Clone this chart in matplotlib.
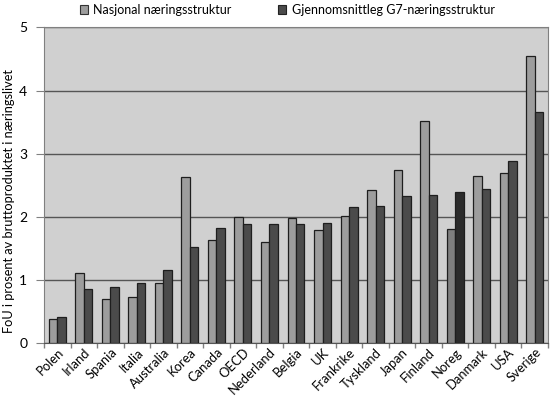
import matplotlib
matplotlib.use("Agg")
import matplotlib.pyplot as plt
import numpy as np
from matplotlib.patches import Patch

countries = ["Polen", "Irland", "Spania", "Italia", "Australia", "Korea", "Canada",
             "OECD", "Nederland", "Belgia", "UK", "Frankrike", "Tyskland", "Japan",
             "Finland", "Noreg", "Danmark", "USA", "Sverige"]
nasjonal = [0.38, 1.11, 0.70, 0.73, 0.96, 2.63, 1.64, 2.00, 1.61, 1.98, 1.79, 2.01,
            2.42, 2.75, 3.52, 1.81, 2.65, 2.70, 4.55]
g7 = [0.42, 0.86, 0.89, 0.95, 1.16, 1.53, 1.83, 1.88, 1.88, 1.88, 1.90, 2.15,
      2.18, 2.33, 2.34, 2.39, 2.44, 2.88, 3.66]
labels = ["Nasjonal næringsstruktur", "Gjennomsnittleg G7-næringsstruktur"]
ylabel = "FoU i prosent av bruttoproduktet i næringslivet"

plt.rcParams['font.family'] = ['Lato', 'DejaVu Sans']

fig = plt.figure(figsize=(5.5, 3.99), dpi=100)
ax = fig.add_axes([44/550, 1-343.3/399, (548-44)/550, (343.3-27.3)/399])
ax.set_facecolor('#d0d0d0')

x = np.arange(len(countries))
w = 0.32
light_col = ['#7f7f7f' if c == 'Noreg' else '#9d9d9d' for c in countries]
dark_col = ['#2b2b2b' if c == 'Noreg' else '#4b4b4b' for c in countries]
ax.bar(x - w/2, nasjonal, w, color=light_col, edgecolor='#1e1e1e', linewidth=0.9, zorder=3)
ax.bar(x + w/2, g7, w, color=dark_col, edgecolor='#1e1e1e', linewidth=0.9, zorder=3)

ax.set_xlim(-0.5, len(countries) - 0.5)
ax.set_ylim(0, 5)
ax.set_yticks([0, 1, 2, 3, 4, 5])
ax.yaxis.grid(True, color='#555555', linewidth=1.0, zorder=1)
ax.set_axisbelow(True)

ax.set_xticks(x)
ax.set_xticklabels(countries, rotation=45, ha='right', va='top',
                   rotation_mode='anchor', fontsize=9.4)
ax.tick_params(axis='x', which='major', length=0, pad=2)
ax.set_xticks(np.arange(-0.5, len(countries)), minor=True)
ax.tick_params(axis='x', which='minor', length=3.6, color='#808080', width=1)
ax.tick_params(axis='y', length=6, color='#808080', labelsize=10, pad=6)

for s in ['left', 'right', 'top']:
    ax.spines[s].set_color('#808080')
ax.spines['bottom'].set_color('#555555')

ax.set_ylabel(ylabel, fontsize=9.2)
ax.yaxis.set_label_coords(-0.057, 0.45)

handles = [Patch(facecolor='#9d9d9d', edgecolor='#333333', linewidth=0.8),
           Patch(facecolor='#4b4b4b', edgecolor='#222222', linewidth=0.8)]
fig.legend(handles, labels, loc='center', bbox_to_anchor=(0.522, 0.975), ncol=2,
           frameon=False, fontsize=9, handlelength=0.65, handleheight=0.65,
           handletextpad=0.45, columnspacing=3.7, borderpad=0.2)

fig.savefig("out.png", dpi=100)
